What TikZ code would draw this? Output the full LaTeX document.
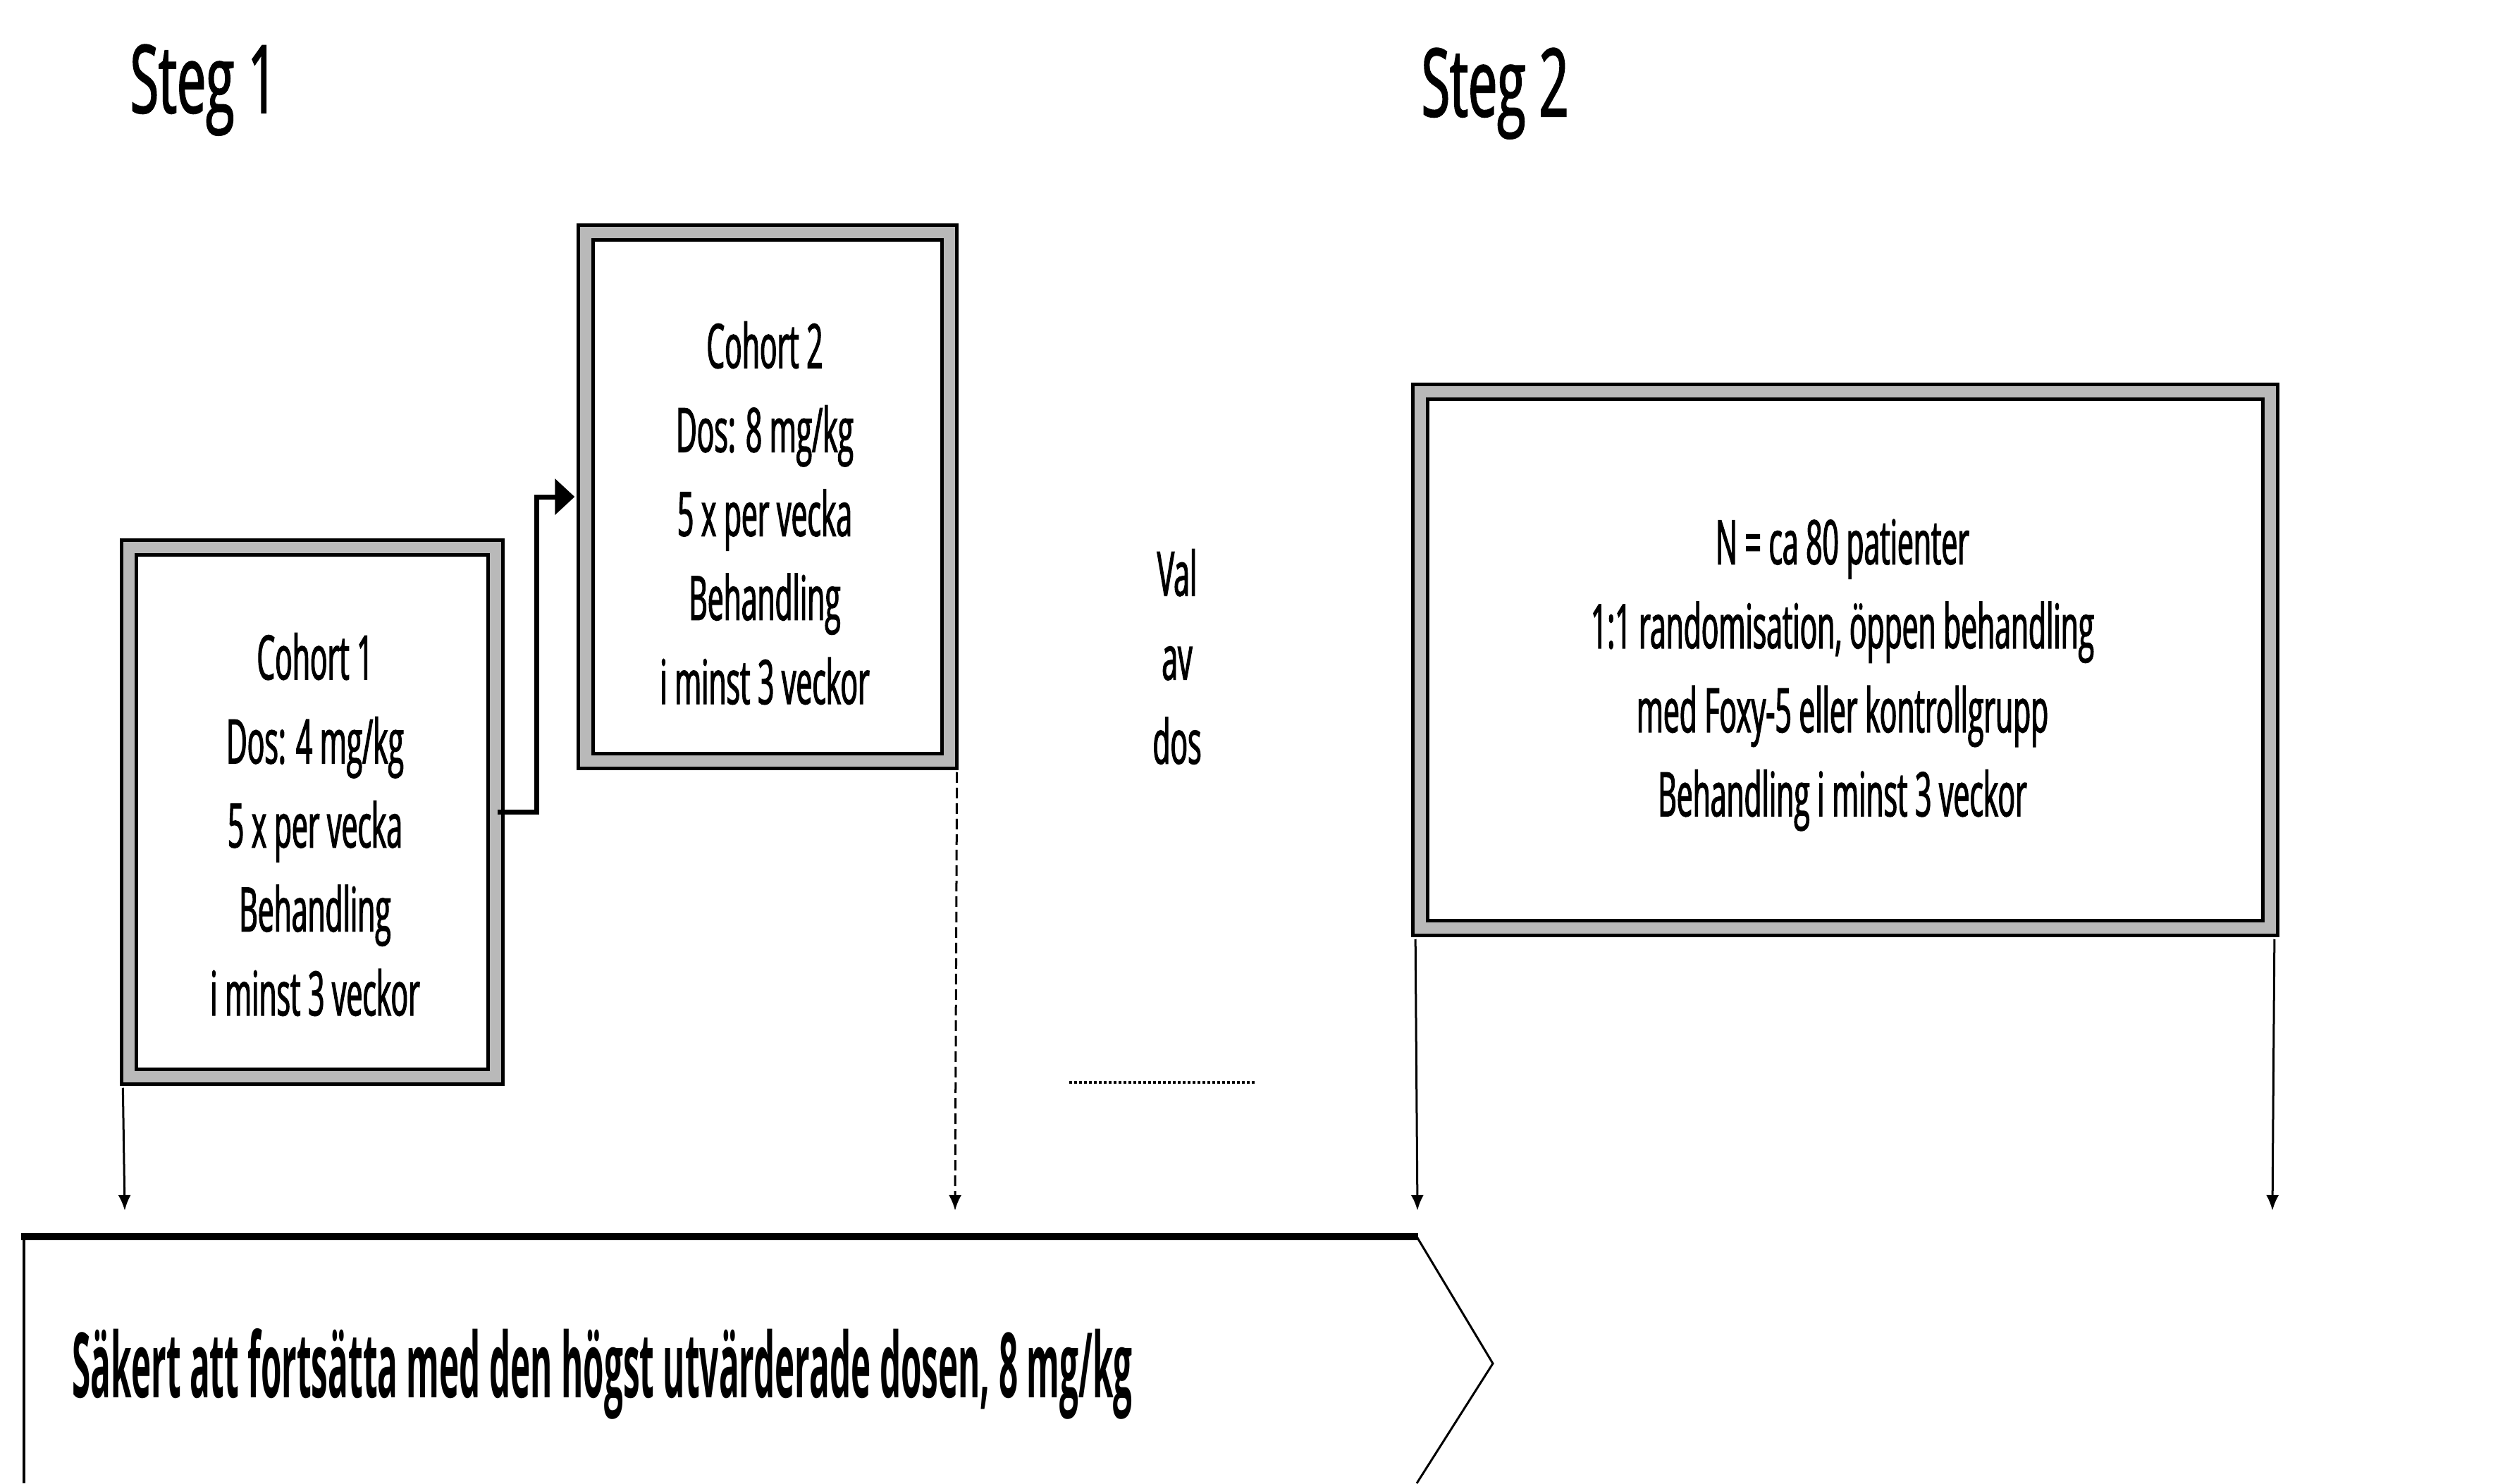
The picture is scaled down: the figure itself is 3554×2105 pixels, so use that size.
\documentclass[tikz,border=0pt]{standalone}
\usepackage{graphicx}
\usepackage{fontspec}
\setmainfont[FakeStretch=0.47,FakeBold=1.5]{Open Sans}
\newfontfamily\stegfam[FakeStretch=0.55,FakeBold=1.5]{Open Sans}
\newfontfamily\safefam[FakeStretch=0.47]{Open Sans}
\usetikzlibrary{arrows.meta}
\newcommand{\boxfont}{\fontsize{24.7}{33.9}\selectfont}
\newcommand{\stegfont}{\stegfam\fontsize{38}{46}\selectfont}
\begin{document}
\begin{tikzpicture}[x=0.01cm,y=-0.01cm,
  cbox/.style={draw=black, line width=0.05cm, double=gray!55, double distance=0.16cm,
    inner sep=0pt},
  plain/.style={align=center, inner sep=0pt, font=\boxfont},
  stegtitle/.style={font=\stegfont, anchor=base west, inner sep=0pt},
  elbow/.style={line width=0.07cm, -{Triangle[length=0.28cm,width=0.5cm]}, shorten >=0.13cm},
  varrow/.style={line width=0.03cm, -{Latex[length=0.22cm,width=0.18cm]}},
  dvarrow/.style={varrow, dash pattern=on 0.15cm off 0.07cm},
  edge/.style={line width=0.03cm}
]
\fill[white] (0,0) rectangle (3554,2105);
\useasboundingbox (0,0) rectangle (3554,2105);

% titles
\node[stegtitle] (st1) at (184,160) {Steg 1};
\node[stegtitle] (st2) at (2016,165) {Steg 2};

% boxes
\node[cbox, minimum width=5.20cm, minimum height=7.51cm] (c1) at (443,1152.5) {};
\node[plain] (c1t) at (447,1170)
  {Cohort 1\\Dos: 4 mg/kg\\5 x per vecka\\Behandling\\i minst 3 veckor};
\node[cbox, minimum width=5.16cm, minimum height=7.50cm] (c2) at (1089,705) {};
\node[plain] (c2t) at (1085,728)
  {Cohort 2\\Dos: 8 mg/kg\\5 x per vecka\\Behandling\\i minst 3 veckor};
\node[cbox, minimum width=12.06cm, minimum height=7.61cm] (s2) at (2618,936.5) {};
\node[plain] (s2t) at (2614,958)
  {N = ca 80 patienter\\1:1 randomisation, öppen behandling\\med Foxy-5 eller kontrollgrupp\\Behandling i minst 3 veckor};

\node[plain] (val) at (1670,932) {Val\\av\\dos};
\draw[line width=0.04cm, dash pattern=on 0.04cm off 0.03cm] (1517,1536) -- (1783,1536);

% elbow connector
\draw[elbow] (c1.east) -- ([xshift=0.56cm]c1.east) |- (c2.west);

% vertical arrows
\coordinate (t1) at (177,1718);
\coordinate (t2) at (1355,1718);
\coordinate (t3) at (2011,1718);
\coordinate (t4) at (3224,1718);
\draw[varrow] ([xshift=-0.06cm,yshift=-0.13cm]c1.south west) -- (t1);
\draw[dvarrow] ([xshift=0.08cm,yshift=-0.13cm]c2.south east) -- (t2);
\draw[varrow] ([xshift=-0.04cm,yshift=-0.13cm]s2.south west) -- (t3);
\draw[varrow] ([xshift=0.03cm,yshift=-0.13cm]s2.south east) -- (t4);

% bottom arrow shape
\draw[edge] (34,2105) -- (34,1755);
\draw[edge] (2010,1755) -- (2118,1935) -- (2010,2105);
\draw[line width=0.1cm] (30,1755) -- (2012,1755);
\node[anchor=base west, inner sep=0pt] (safe) at (102,1983)
  {\resizebox{15.03cm}{0.98cm}{\safefam\bfseries Säkert att fortsätta med den högst utvärderade dosen, 8 mg/kg}};
\end{tikzpicture}
\end{document}
